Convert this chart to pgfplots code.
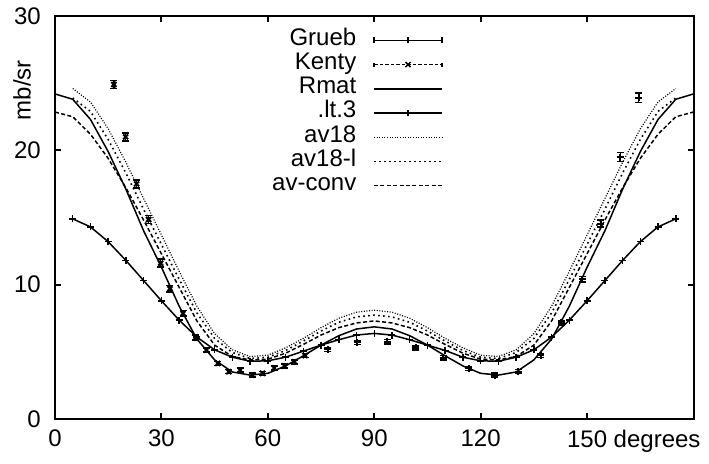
\documentclass[border=0pt]{standalone}
\usepackage{pgfplots}
\pgfplotsset{compat=1.18}
\usepackage{fontspec}
\setmainfont{Liberation Sans}
\begin{document}
\begin{tikzpicture}
\begin{axis}[
  at={(0,0)}, anchor=south west,
  scale only axis, width=638.5bp, height=403bp,
  xmin=0, xmax=180, ymin=0, ymax=30,
  xtick={0,30,60,90,120,150},
  xticklabels={0,30,60,90,120,{150\rlap{ degrees}}},
  ytick={0,10,20,30},
  tick align=inside, major tick length=6bp,
  every tick/.style={black, line width=2bp},
  axis line style={line width=2bp},
  font=\fontsize{24bp}{29bp}\selectfont,
  /pgf/number format/assume math mode=true,
  xticklabel style={anchor=north, inner sep=0pt, yshift=-11bp},
  yticklabel style={anchor=east, inner sep=0pt, xshift=-14bp},
  legend cell align=right,
  legend plot pos=right,
  legend style={at={(axis cs:109.4,29.1)}, anchor=north east, draw=none, fill=none,
    inner sep=0pt, column sep=17bp,
    nodes={inner sep=0pt, text height=17bp, text depth=7.2bp},
    font=\fontsize{24bp}{29bp}\selectfont},
  legend image code/.code={\draw[#1] (0bp,0bp) -- (68bp,0bp);},
]
% Grueb
\addplot[black, only marks, mark=+, mark size=3.5bp, line width=2bp,
  error bars/.cd, y dir=both, y explicit,
  error mark=-, error mark options={mark size=3.5bp, line width=1.5bp, rotate=90},
  error bar style={line width=1.5bp},
  /pgfplots/legend image code/.code={
    \draw[black, line width=1.5bp] (0bp,0bp) -- (68bp,0bp);
    \draw[black, line width=1.5bp] (0bp,-3bp) -- (0bp,3bp) (68bp,-3bp) -- (68bp,3bp) (34bp,-3bp) -- (34bp,3bp);}]
  table[x index=0, y index=1, y error index=2] {
76.9 5.18 0.15
85.2 5.7 0.15
93.7 5.75 0.15
101.7 5.3 0.15
109.4 4.56 0.15
116.7 3.77 0.15
123.9 3.27 0.15
130.6 3.52 0.15
136.9 4.73 0.15
142.7 7.16 0.15
148.6 10.4 0.2
153.8 14.55 0.25
159.4 19.5 0.33
164.5 23.9 0.35
};
\addlegendentry{Grueb}
% Kenty
\addplot[black, only marks, mark=x, mark size=3.5bp, line width=2bp,
  error bars/.cd, y dir=both, y explicit,
  error mark=-, error mark options={mark size=3.5bp, line width=1.5bp, rotate=90},
  error bar style={line width=1.5bp},
  /pgfplots/legend image code/.code={
    \draw[black, line width=1.5bp, dash pattern=on 3.5bp off 2bp] (0bp,0bp) -- (68bp,0bp);
    \draw[black, line width=1.5bp] (0bp,-2bp) -- (0bp,2bp) (68bp,-2bp) -- (68bp,2bp);
    \draw[black, line width=1.5bp] (31.5bp,-2.5bp) -- (36.5bp,2.5bp) (31.5bp,2.5bp) -- (36.5bp,-2.5bp);}]
  table[x index=0, y index=1, y error index=2] {
16.6 24.9 0.3
19.9 21.0 0.3
23.0 17.5 0.3
26.4 14.85 0.3
29.8 11.6 0.3
32.4 9.7 0.25
36.1 7.86 0.2
39.7 6.07 0.2
42.7 5.13 0.15
45.9 4.14 0.15
49.0 3.52 0.15
52.2 3.64 0.15
55.6 3.27 0.15
58.5 3.4 0.15
61.8 3.8 0.15
64.7 3.94 0.15
67.5 4.26 0.15
70.5 4.72 0.15
};
\addlegendentry{Kenty}
% Rmat
\addplot[black, line width=1.5bp, mark=none] table {
0 24.2
5 23.8
10 22.3
15 19.9
20 17.1
25 14.0
30 11.3
35 8.4
40 5.95
45 4.4
50 3.5
55 3.27
60 3.4
65 3.95
70 4.7
75 5.5
80 6.2
85 6.7
90 6.86
95 6.7
100 6.2
105 5.5
110 4.7
115 3.95
120 3.4
125 3.27
130 3.5
135 4.4
140 5.95
145 8.4
150 11.3
155 14.0
160 17.1
165 19.9
170 22.3
175 23.8
180 24.2
};
\addlegendentry{Rmat}
% .lt.3
\addplot[black, line width=1.5bp, mark=+, mark size=3.5bp,
  /pgfplots/legend image code/.code={
    \draw[black, line width=1.5bp] (0bp,0bp) -- (68bp,0bp);
    \draw[black, line width=1.5bp] (34bp,-3bp) -- (34bp,3bp);}] table {
5 14.9
10 14.3
15 13.2
20 11.8
25 10.3
30 8.8
35 7.36
40 6.1
45 5.15
50 4.6
55 4.3
60 4.33
65 4.6
70 5.05
75 5.5
80 5.9
85 6.25
90 6.37
95 6.25
100 5.9
105 5.5
110 5.1
115 4.6
120 4.33
125 4.3
130 4.6
135 5.15
140 6.1
145 7.36
150 8.8
155 10.3
160 11.8
165 13.2
170 14.3
175 14.9
};
\addlegendentry{.lt.3}
% av18
\addplot[black, line width=1.2bp, dash pattern=on 1bp off 1.6bp] table {
5 24.6
10 23.6
15 21.6
20 19.1
25 16.4
30 13.7
35 11.0
40 8.4
45 6.35
50 5.15
55 4.65
60 4.75
65 5.3
70 6.0
75 6.8
80 7.5
85 7.95
90 8.1
95 7.95
100 7.5
105 6.8
110 6.0
115 5.3
120 4.75
125 4.65
130 5.15
135 6.35
140 8.4
145 11.0
150 13.7
155 16.4
160 19.1
165 21.6
170 23.6
175 24.6
};
\addlegendentry{av18}
% av18-l
\addplot[black, line width=1.6bp, dash pattern=on 1.6bp off 3.4bp] table {
5 23.9
10 22.9
15 20.8
20 18.3
25 15.6
30 13.0
35 10.4
40 7.9
45 6.0
50 4.95
55 4.5
60 4.6
65 5.1
70 5.8
75 6.55
80 7.2
85 7.6
90 7.73
95 7.6
100 7.2
105 6.55
110 5.8
115 5.1
120 4.6
125 4.5
130 4.95
135 6.0
140 7.9
145 10.4
150 13.0
155 15.6
160 18.3
165 20.8
170 22.9
175 23.9
};
\addlegendentry{av18-l}
% av-conv
\addplot[black, line width=1.5bp, dash pattern=on 4bp off 2.4bp] table {
0 22.85
5 22.5
10 21.2
15 19.4
20 17.2
25 14.8
30 12.3
35 9.8
40 7.3
45 5.5
50 4.65
55 4.4
60 4.45
65 4.9
70 5.55
75 6.25
80 6.8
85 7.15
90 7.3
95 7.15
100 6.8
105 6.25
110 5.55
115 4.9
120 4.45
125 4.4
130 4.65
135 5.5
140 7.3
145 9.8
150 12.3
155 14.8
160 17.2
165 19.4
170 21.2
175 22.5
180 22.85
};
\addlegendentry{av-conv}
\end{axis}
\path (-55bp,-45bp) rectangle (654bp,419bp);
\node[rotate=90, font=\fontsize{24bp}{29bp}\selectfont] at (-33bp,328.8bp) {mb/sr};
\end{tikzpicture}
\end{document}
